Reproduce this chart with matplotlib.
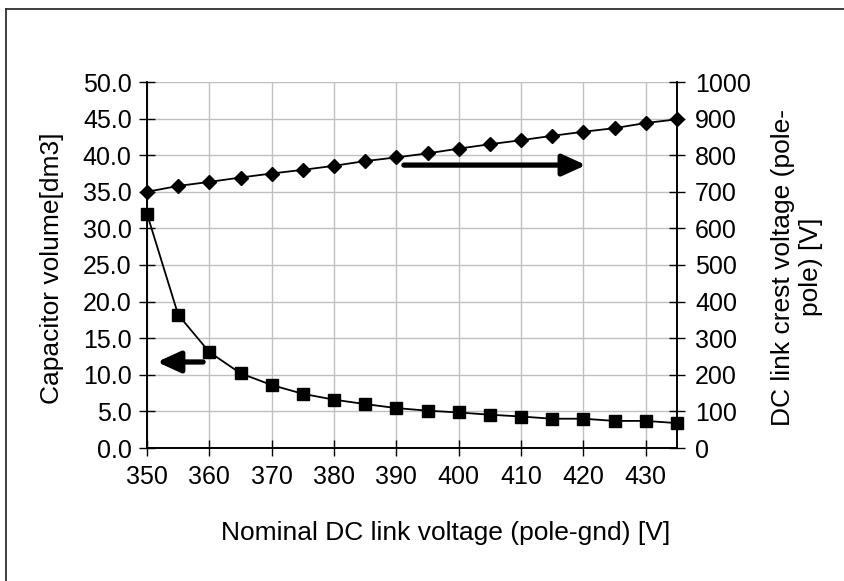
import matplotlib
matplotlib.use("Agg")
import matplotlib.pyplot as plt
from matplotlib.lines import Line2D

plt.rcParams['font.family'] = ['Liberation Sans', 'DejaVu Sans']

# Data
voltage = [350, 355, 360, 365, 370, 375, 380, 385, 390, 395, 400, 405, 410, 415, 420, 425, 430, 435]
cap_volume = [32.0, 18.2, 13.1, 10.2, 8.6, 7.4, 6.6, 6.0, 5.45, 5.1, 4.85, 4.55, 4.3, 4.0, 4.0, 3.7, 3.7, 3.4]
crest_voltage = [700, 716, 727, 739, 750, 760, 771, 784, 794, 805, 818, 830, 841, 853, 864, 874, 888, 898]

x_ticks = [350, 360, 370, 380, 390, 400, 410, 420, 430]
left_ticks = [0, 5, 10, 15, 20, 25, 30, 35, 40, 45, 50]
right_ticks = [0, 100, 200, 300, 400, 500, 600, 700, 800, 900, 1000]

# Annotation arrows (data coordinates)
right_arrow = ((391.2, 773), (420.4, 773))   # on right axis
left_arrow = ((359.0, 11.75), (351.6, 11.75))  # on left axis

W, H = 845, 581
fig = plt.figure(figsize=(W / 100, H / 100), dpi=100)
fig.patch.set_facecolor('white')

L, R, T, B = 147, 677, 82, 448
ax = fig.add_axes([L / W, 1 - B / H, (R - L) / W, (B - T) / H])
ax2 = ax.twinx()

tfs = 18
lfs = 19
ax.set_xlim(350, 435)
ax.set_ylim(0, 50)
ax2.set_ylim(0, 1000)

ax.set_xticks(x_ticks)
ax.set_xticklabels([str(v) for v in x_ticks], fontsize=tfs)
ax.set_yticks(left_ticks)
ax.set_yticklabels([f"{v:.1f}" for v in left_ticks], fontsize=tfs)
ax2.set_yticks(right_ticks)
ax2.set_yticklabels([str(v) for v in right_ticks], fontsize=tfs)

ax.grid(True, color='#c0c0c0', linewidth=1.0)
ax.set_axisbelow(True)

for a in (ax, ax2):
    a.spines['top'].set_visible(False)
    for s in ('left', 'right', 'bottom'):
        a.spines[s].set_linewidth(1.2)
        a.spines[s].set_color('black')

ax.tick_params(axis='x', direction='inout', length=12, width=1, pad=6)
ax.tick_params(axis='y', direction='inout', length=12, width=1, pad=5)
ax2.tick_params(axis='y', direction='inout', length=12, width=1, pad=7)

ax.plot(voltage, cap_volume, color='black', linewidth=1.3, marker='s',
        markersize=8, clip_on=False, zorder=5)
ax2.plot(voltage, crest_voltage, color='black', linewidth=1.3, marker='D',
         markersize=7.5, clip_on=False, zorder=5)

arrowprops = dict(arrowstyle='-|>,head_length=0.7,head_width=0.32', lw=3.8,
                  color='black', shrinkA=0, shrinkB=0, mutation_scale=20)
ax2.annotate('', xy=right_arrow[1], xytext=right_arrow[0], xycoords='data',
             arrowprops=arrowprops, zorder=6)
ax.annotate('', xy=left_arrow[1], xytext=left_arrow[0], xycoords='data',
            arrowprops=arrowprops, zorder=6)

fig.text(446 / W, 1 - 533 / H, 'Nominal DC link voltage (pole-gnd) [V]',
         fontsize=lfs, ha='center', va='center')
fig.text(52 / W, 1 - 268 / H, 'Capacitor volume[dm3]', fontsize=lfs,
         ha='center', va='center', rotation=90)
fig.text(797 / W, 1 - 267 / H, 'DC link crest voltage (pole-\npole) [V]',
         fontsize=lfs, ha='center', va='center', rotation=90,
         multialignment='center', linespacing=1.2)

# Outer frame (left and top edges visible)
fig.add_artist(Line2D([6 / W, 6 / W], [0, 1 - 9 / H], transform=fig.transFigure,
                      color='#303030', linewidth=1.3))
fig.add_artist(Line2D([6 / W, 1], [1 - 9 / H, 1 - 9 / H], transform=fig.transFigure,
                      color='#303030', linewidth=1.3))

fig.savefig('out.png', dpi=100)
